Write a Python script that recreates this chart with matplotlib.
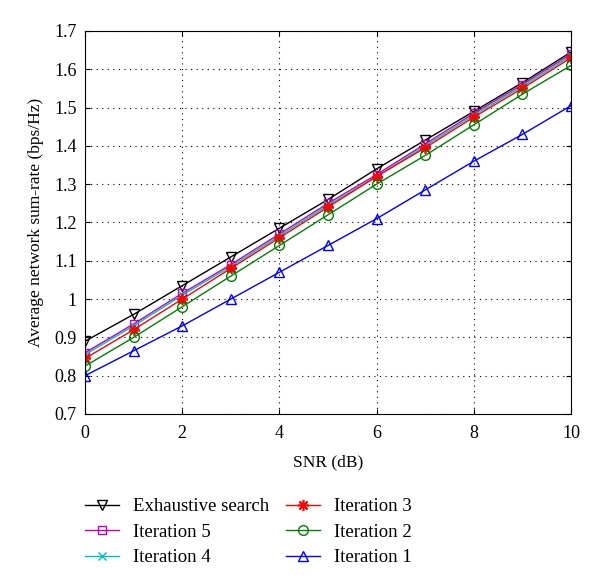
import matplotlib
matplotlib.use("Agg")
import matplotlib.pyplot as plt

plt.rcParams['font.family'] = ['Liberation Serif', 'DejaVu Serif']

snr = [0, 1, 2, 3, 4, 5, 6, 7, 8, 9, 10]
exhaustive = [0.89, 0.96, 1.035, 1.11, 1.185, 1.26, 1.34, 1.415, 1.49, 1.565, 1.645]
iter5 = [0.86, 0.935, 1.015, 1.09, 1.17, 1.25, 1.325, 1.405, 1.485, 1.56, 1.64]
iter4 = [0.855, 0.93, 1.01, 1.085, 1.165, 1.245, 1.32, 1.40, 1.48, 1.555, 1.635]
iter3 = [0.845, 0.92, 1.0, 1.08, 1.16, 1.24, 1.32, 1.395, 1.475, 1.55, 1.63]
iter2 = [0.825, 0.90, 0.98, 1.06, 1.14, 1.22, 1.30, 1.375, 1.455, 1.535, 1.61]
iter1 = [0.80, 0.865, 0.93, 1.0, 1.07, 1.14, 1.21, 1.285, 1.36, 1.43, 1.505]

fig = plt.figure(figsize=(6, 5.83), dpi=100)
ax = fig.add_axes([0.1417, 0.2899, 0.81, 0.657])

ax.plot(snr, exhaustive, color='black', marker='v', mfc='none', ms=7, lw=1, label='Exhaustive search')
ax.plot(snr, iter5, color='#bf00bf', marker='s', mfc='none', ms=6, lw=1, label='Iteration 5')
ax.plot(snr, iter4, color='#00bfbf', marker='x', ms=6, lw=1, label='Iteration 4')
ax.plot(snr, iter3, color='red', marker=(8, 2, 0), ms=8, mew=1.2, lw=1, label='Iteration 3')
ax.plot(snr, iter2, color='green', marker='o', mfc='none', ms=7, lw=1, label='Iteration 2')
ax.plot(snr, iter1, color='blue', marker='^', mfc='none', ms=7, lw=1, label='Iteration 1')

ax.set_xlim(0, 10)
ax.set_ylim(0.7, 1.7)
ax.set_xticks([0, 2, 4, 6, 8, 10])
ax.set_yticks([0.7, 0.8, 0.9, 1.0, 1.1, 1.2, 1.3, 1.4, 1.5, 1.6, 1.7])
ax.set_yticklabels(['0.7', '0.8', '0.9', '1', '1.1', '1.2', '1.3', '1.4', '1.5', '1.6', '1.7'])
ax.tick_params(direction='in', top=True, right=True, labelsize=13)
ax.tick_params(axis='x', pad=8)
ax.tick_params(axis='y', pad=6)
ax.grid(True, linestyle=(0, (1, 4)), color='black', lw=0.8)
ax.set_xlabel('SNR (dB)', fontsize=12.5, labelpad=9)
ax.set_ylabel('Average network sum-rate (bps/Hz)', fontsize=12.5, labelpad=7)

fig.legend(loc='upper left', bbox_to_anchor=(85 / 600, 1 - 498 / 583), ncol=2, frameon=False,
           fontsize=13.5, handlelength=1.8, handletextpad=0.75, columnspacing=0.9,
           labelspacing=0.45, borderpad=0, borderaxespad=0)

fig.savefig('out.png', dpi=100)
